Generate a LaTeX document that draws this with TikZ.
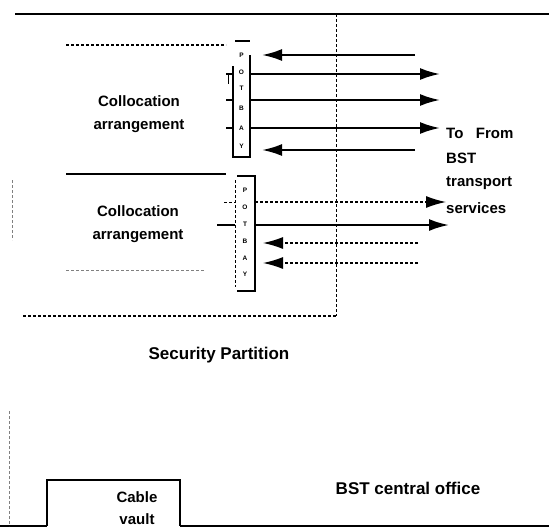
\documentclass[tikz,border=0pt]{standalone}
\usepackage{fontspec}
\setmainfont{Liberation Sans}
\usetikzlibrary{arrows.meta}
\begin{document}
\begin{tikzpicture}[x=1pt,y=-1pt,
  wall/.style={line width=2.4pt},
  part/.style={line width=1.8pt},
  faint/.style={line width=0.8pt,densely dashed,gray},
  sig/.style={line width=2.2pt,-{Latex[length=20pt,width=12pt]}},
  sigd/.style={line width=1.3pt,densely dashed,-{Latex[length=20pt,width=12pt]}},
  lbl/.style={font=\bfseries\fontsize{15}{17}\selectfont,inner sep=0pt},
  big/.style={font=\bfseries\fontsize{17}{19}\selectfont,inner sep=0pt},
  bay/.style={font=\bfseries\fontsize{6.5}{6.5}\selectfont,inner sep=0pt},
  stub/.style={line width=1.8pt}]
\useasboundingbox (0,0) rectangle (549,530);
\fill[white] (0,0) rectangle (549,530);
% outer walls
\draw[wall] (15,14) -- (549,14);
\draw[wall] (0,526) -- (47,526);
\draw[wall] (180,526) -- (549,526);
\draw[faint] (9,411) -- (9,526);
\draw[faint] (12,180) -- (12,240);
% cable vault
\draw[part] (47,526) -- (47,480) -- (180,480) -- (180,526);
\node[lbl] (cable) at (137,497) {Cable};
\node[lbl] (vault) at (137,519) {vault};
% security partition
\draw[line width=0.8pt,densely dashed] (336,14) -- (336,316);
\draw[part,densely dashed] (23,316) -- (336,316);
\node[big] (secpart) at (219,355) {Security Partition};
% collocation 1
\draw[part,densely dashed] (66,45) -- (226,45);
\node[lbl] (c1a) at (139,101) {Collocation};
\node[lbl] (c1b) at (139,126) {arrangement};
\draw[wall] (66,174) -- (226,174);
% collocation 2
\node[lbl] (c2a) at (138,211) {Collocation};
\node[lbl] (c2b) at (138,236) {arrangement};
\draw[faint] (66,270) -- (205,270);
% bay 1
\draw[part] (235,41) -- (250,41);
\draw[part] (233,66) -- (233,157) -- (250,157) -- (250,55);
\foreach \l/\yy [count=\i] in {P/55,O/72,T/88,B/108,A/128,Y/146}
  \node[bay] (b1\i) at (241.5,\yy) {\l};
\draw[stub] (226,74) -- (233,74);
\draw[stub] (226,100) -- (233,100);
\draw[stub] (226,128) -- (233,128);
\draw[line width=0.5pt] (228,74) -- (228,84);
% bay 2
\draw[part] (237,176) -- (255,176) -- (255,291) -- (237,291);
\draw[line width=0.8pt,densely dashed] (235,180) -- (235,287);
\foreach \l/\yy [count=\i] in {P/190,O/207,T/224,B/241,A/258,Y/274}
  \node[bay] (b2\i) at (245,\yy) {\l};
\draw[line width=0.7pt,densely dashed] (224,202) -- (235,202);
\draw[stub] (217,225) -- (235,225);
% far end
\coordinate (f1) at (415,55);
\coordinate (f2) at (440,74);
\coordinate (f3) at (440,100);
\coordinate (f4) at (440,128);
\coordinate (f5) at (415,150);
\coordinate (g1) at (446,202);
\coordinate (g2) at (449,225);
\coordinate (g3) at (418,243);
\coordinate (g4) at (418,263);
\coordinate (n1) at (262,55);
\coordinate (n2) at (250,74);
\coordinate (n3) at (250,100);
\coordinate (n4) at (250,128);
\coordinate (n5) at (262,150);
\coordinate (m1) at (255,202);
\coordinate (m2) at (255,225);
\coordinate (m3) at (263,243);
\coordinate (m4) at (263,263);
\draw[sig] (f1) -- (n1);
\draw[sig] (n2) -- (f2);
\draw[sig] (n3) -- (f3);
\draw[sig] (n4) -- (f4);
\draw[sig] (f5) -- (n5);
\draw[sigd] (m1) -- (g1);
\draw[sig] (m2) -- (g2);
\draw[sigd] (g3) -- (m3);
\draw[sigd] (g4) -- (m4);
% labels
\node[lbl,anchor=west] (tofrom) at (446,133) {To\ \ \ From};
\node[lbl,anchor=west] (bst) at (446,158) {BST};
\node[lbl,anchor=west] (transp) at (446,183) {transport};
\node[lbl,anchor=west] (serv) at (446,208) {services};
\node[big] (bstco) at (408,488) {BST central office};
\end{tikzpicture}
\end{document}
